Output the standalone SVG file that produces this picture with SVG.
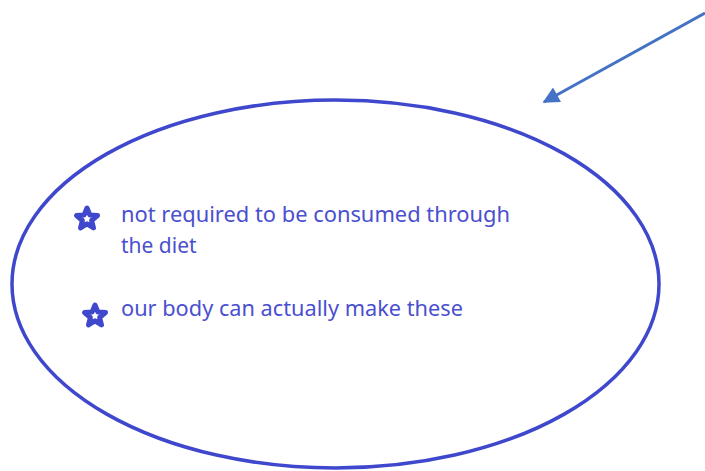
<svg xmlns="http://www.w3.org/2000/svg" width="705" height="471" viewBox="0 0 705 471">
<defs>
<style>
.t{font-family:"Noto Sans","Open Sans","DejaVu Sans",sans-serif;font-size:21px;fill:#4a4fd0}
.star{fill:#fff;stroke:#3f48cc;stroke-width:5;stroke-linejoin:round}
</style>
<marker id="ah" viewBox="0 0 10 10" refX="9" refY="5" markerWidth="6" markerHeight="5.5" orient="auto" markerUnits="strokeWidth">
<path d="M0,0 L10,5 L0,10 z" fill="#4472c4"/>
</marker>
<path id="st" d="M0,-11 L2.9,-4 L10.5,-3.4 L4.6,1.5 L6.5,8.9 L0,4.8 L-6.5,8.9 L-4.6,1.5 L-10.5,-3.4 L-2.9,-4 Z"/>
</defs>
<rect width="705" height="471" fill="#fff"/>
<g id="connectors">
<line x1="705" y1="13" x2="544" y2="102" stroke="#4472c4" stroke-width="3" marker-end="url(#ah)"/>
</g>
<g id="ellipse-node">
<ellipse cx="335.5" cy="284" rx="323.5" ry="184" fill="none" stroke="#3f48cc" stroke-width="3.5"/>
</g>
<g id="bullet1">
<use href="#st" class="star" x="87" y="219"/>
<text class="t" x="121" y="222" textLength="389" lengthAdjust="spacingAndGlyphs">not required to be consumed through</text>
<text class="t" x="121" y="253">the diet</text>
</g>
<g id="bullet2">
<use href="#st" class="star" x="95" y="316"/>
<text class="t" x="121" y="316" textLength="342" lengthAdjust="spacingAndGlyphs">our body can actually make these</text>
</g>
</svg>
